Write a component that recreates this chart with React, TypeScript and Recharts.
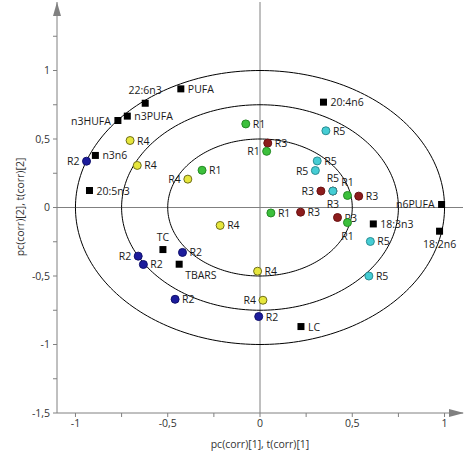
import React from "react";
import {
  ScatterChart,
  Scatter,
  XAxis,
  YAxis,
  ReferenceLine,
  ReferenceDot,
} from "recharts";

// ---- data ----
const varNames = ["PUFA", "22:6n3", "n3PUFA", "n3HUFA", "n3n6", "20:5n3", "20:4n6", "n6PUFA", "18:3n3", "18:2n6", "TC", "TBARS", "LC"];
const varX = [-0.429, -0.622, -0.719, -0.77, -0.892, -0.924, 0.344, 0.984, 0.614, 0.973, -0.526, -0.438, 0.222];
const varY = [0.866, 0.761, 0.667, 0.635, 0.38, 0.124, 0.769, 0.022, -0.12, -0.173, -0.307, -0.414, -0.869];
const varPos = ["r", "t", "r", "l", "r", "r", "r", "l", "r", "b", "t", "br", "r"];

const r1X = [-0.077, 0.036, -0.314, 0.474, 0.059, 0.474];
const r1Y = [0.61, 0.41, 0.272, 0.088, -0.04, -0.11];
const r1Pos = ["r", "l", "r", "t", "r", "b"];

const r2X = [-0.94, -0.66, -0.632, -0.42, -0.46, -0.007];
const r2Y = [0.338, -0.355, -0.416, -0.328, -0.67, -0.796];
const r2Pos = ["l", "l", "r", "r", "r", "r"];

const r3X = [0.042, 0.33, 0.535, 0.22, 0.42, 0.395];
const r3Y = [0.47, 0.12, 0.083, -0.034, -0.073, 0.12];
const r3Pos = ["r", "l", "r", "r", "r", "b"];

const r4X = [-0.704, -0.665, -0.391, -0.216, -0.013, 0.016];
const r4Y = [0.489, 0.307, 0.207, -0.131, -0.465, -0.677];
const r4Pos = ["r", "r", "l", "r", "r", "l"];

const r5X = [0.357, 0.31, 0.3, 0.395, 0.598, 0.59];
const r5Y = [0.56, 0.34, 0.27, 0.12, -0.248, -0.5];
const r5Pos = ["r", "r", "l", "t", "r", "r"];

const circleRadii = [0.5, 0.75, 1];
const xTicks = [-1, -0.75, -0.5, -0.25, 0, 0.25, 0.5, 0.75, 1];
const yTicks = [-1.5, -1.25, -1, -0.75, -0.5, -0.25, 0, 0.25, 0.5, 0.75, 1, 1.25];

const FONT = "'Open Sans', sans-serif";
const AXIS = "#808080";

const build = (xs: number[], ys: number[], pos: string[], label: string | string[]) =>
  xs.map((x, i) => ({
    x,
    y: ys[i],
    pos: pos[i],
    label: Array.isArray(label) ? label[i] : label,
  }));

const circlePts = (r: number) => {
  const pts = [];
  for (let i = 0; i <= 240; i++) {
    const a = (i / 240) * Math.PI * 2;
    pts.push({ x: r * Math.cos(a), y: r * Math.sin(a) });
  }
  return pts;
};

const Label = ({ cx, cy, pos, text }: any) => {
  let x = cx + 7;
  let y = cy + 4;
  let anchor: any = "start";
  if (pos === "l") {
    x = cx - 7;
    anchor = "end";
  } else if (pos === "t") {
    x = cx;
    y = cy - 9;
    anchor = "middle";
  } else if (pos === "b") {
    x = cx;
    y = cy + 17;
    anchor = "middle";
  } else if (pos === "br") {
    x = cx + 6;
    y = cy + 15;
  }
  return (
    <text x={x} y={y} textAnchor={anchor} fontFamily={FONT} fontSize={10.5} fill="#1a1a1a">
      {text}
    </text>
  );
};

const dotShape = (fill: string, stroke: string) => (props: any) => {
  const { cx, cy, payload } = props;
  return (
    <g>
      <circle cx={cx} cy={cy} r={4} fill={fill} stroke={stroke} strokeWidth={1} />
      <Label cx={cx} cy={cy} pos={payload.pos} text={payload.label} />
    </g>
  );
};

const squareShape = (props: any) => {
  const { cx, cy, payload } = props;
  return (
    <g>
      <rect x={cx - 3.5} y={cy - 3.5} width={7} height={7} fill="#000" />
      <Label cx={cx} cy={cy} pos={payload.pos} text={payload.label} />
    </g>
  );
};

const fmt = (v: number) => String(v).replace(".", ",");

const XTick = (props: any) => {
  const { x, y, payload } = props;
  const v = payload.value;
  if (Math.abs(v * 2 - Math.round(v * 2)) > 1e-6) return <g />;
  return (
    <text x={x} y={y} dy="0.71em" textAnchor="middle" fontFamily={FONT} fontSize={10.5} fill="#333">
      {fmt(v)}
    </text>
  );
};

const YTick = (props: any) => {
  const { x, y, payload } = props;
  const v = payload.value;
  if (Math.abs(v * 2 - Math.round(v * 2)) > 1e-6) return <g />;
  return (
    <text x={x} y={y} dy="0.355em" textAnchor="end" fontFamily={FONT} fontSize={10.5} fill="#333">
      {fmt(v)}
    </text>
  );
};

export default function App() {
  const vars = build(varX, varY, varPos, varNames);
  const r1 = build(r1X, r1Y, r1Pos, "R1");
  const r2 = build(r2X, r2Y, r2Pos, "R2");
  const r3 = build(r3X, r3Y, r3Pos, "R3");
  const r4 = build(r4X, r4Y, r4Pos, "R4");
  const r5 = build(r5X, r5Y, r5Pos, "R5");

  return (
    <div style={{ position: "absolute", left: 0, top: 0, background: "#fff" }}>
      <ScatterChart width={475} height={457} margin={{ top: 2, right: 12, left: 0, bottom: 0 }}>
        <XAxis
          type="number"
          dataKey="x"
          domain={[-1.1, 1.1]}
          ticks={xTicks}
          allowDataOverflow
          height={44}
          stroke={AXIS}
          tickSize={4}
          tickMargin={3}
          tick={<XTick />}
          interval={0}
          label={{
            value: "pc(corr)[1], t(corr)[1]",
            position: "insideBottom",
            offset: 9,
            fontFamily: FONT,
            fontSize: 10.5,
            fill: "#333",
          }}
        />
        <YAxis
          type="number"
          dataKey="y"
          domain={[-1.5, 1.5]}
          ticks={yTicks}
          allowDataOverflow
          width={57}
          stroke={AXIS}
          tickSize={4}
          tickMargin={3}
          tick={<YTick />}
          interval={0}
          label={() => (
            <text
              transform="translate(24,207) rotate(-90)"
              textAnchor="middle"
              fontFamily={FONT}
              fontSize={10.5}
              fill="#333"
            >
              pc(corr)[2], t(corr)[2]
            </text>
          )}
        />
        <ReferenceLine x={0} stroke={AXIS} strokeWidth={1} />
        <ReferenceLine y={0} stroke={AXIS} strokeWidth={1} />
        {circleRadii.map((r) => (
          <Scatter
            key={"c" + r}
            data={circlePts(r)}
            line={{ stroke: "#000", strokeWidth: 1 }}
            lineType="joint"
            shape={() => <g />}
            isAnimationActive={false}
            legendType="none"
          />
        ))}
        <Scatter data={vars} shape={squareShape} isAnimationActive={false} />
        <Scatter data={r3} shape={dotShape("#8c1c1c", "#6a1212")} isAnimationActive={false} />
        <Scatter data={r5} shape={dotShape("#45cdd4", "#2a8c92")} isAnimationActive={false} />
        <Scatter data={r1} shape={dotShape("#3cc03c", "#248a24")} isAnimationActive={false} />
        <Scatter data={r2} shape={dotShape("#1c1c9c", "#10106c")} isAnimationActive={false} />
        <Scatter data={r4} shape={dotShape("#e6e63c", "#6e6e1a")} isAnimationActive={false} />
        <ReferenceDot
          x={1.1}
          y={-1.5}
          ifOverflow="visible"
          shape={(p: any) => (
            <polygon
              points={`${p.cx + 1},${p.cy} ${p.cx - 14},${p.cy - 4} ${p.cx - 14},${p.cy + 4}`}
              fill={AXIS}
            />
          )}
        />
        <ReferenceDot
          x={-1.1}
          y={1.5}
          ifOverflow="visible"
          shape={(p: any) => (
            <polygon
              points={`${p.cx},${p.cy} ${p.cx - 4},${p.cy + 14} ${p.cx + 4},${p.cy + 14}`}
              fill={AXIS}
            />
          )}
        />
      </ScatterChart>
    </div>
  );
}
